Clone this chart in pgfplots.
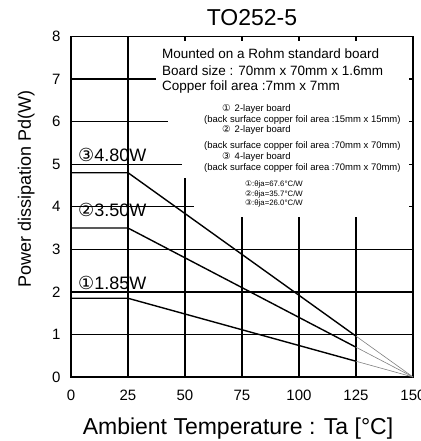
\documentclass[border=0pt]{standalone}
\usepackage{fontspec}
\setmainfont{Liberation Sans}
\newfontfamily\circfont{DejaVu Sans}
\usepackage{pgfplots}
\pgfplotsset{compat=1.18}
\begin{document}
\begin{tikzpicture}
\begin{axis}[
  at={(0,0)}, anchor=south west, scale only axis,
  width=342bp, height=340.5bp,
  xmin=0, xmax=150, ymin=0, ymax=8,
  xtick={0,25,...,150}, ytick={0,1,...,8},
  tick align=inside, major tick length=4bp,
  axis line style={line width=1.8bp},
  tick style={black, line width=1.2bp},
  /pgf/number format/assume math mode=true,
  ticklabel style={font=\fontsize{15bp}{18bp}\selectfont},
  xticklabel style={yshift=-10bp},
  yticklabel style={xshift=-7bp},
]
% grid, cut where the note stands
\draw[line width=1.3bp] (axis cs:25,0) -- (axis cs:25,8);
\draw[line width=1.3bp] (axis cs:50,0) -- (axis cs:50,4.68);
\draw[line width=1.3bp] (axis cs:75,0) -- (axis cs:75,3.75);
\draw[line width=1.3bp] (axis cs:100,0) -- (axis cs:100,3.75);
\draw[line width=1.3bp] (axis cs:125,0) -- (axis cs:125,3.75);
\draw[line width=1.3bp] (axis cs:0,1) -- (axis cs:150,1);
\draw[line width=1.3bp] (axis cs:0,2) -- (axis cs:150,2);
\draw[line width=1.3bp] (axis cs:0,3) -- (axis cs:150,3);
\draw[line width=1.3bp] (axis cs:0,4) -- (axis cs:53.8,4);
\draw[line width=1.3bp] (axis cs:0,5) -- (axis cs:48.5,5);
\draw[line width=1.3bp] (axis cs:0,6) -- (axis cs:42.4,6);
\draw[line width=1.3bp] (axis cs:0,7) -- (axis cs:37.2,7);
% derating curves
\addplot[black, line width=1.4bp] coordinates {(0,4.80) (25,4.80) (125,0.96)};
\addplot[gray, line width=0.6bp] coordinates {(125,0.96) (150,0)};
\addplot[black, line width=1.4bp] coordinates {(0,3.50) (25,3.50) (125,0.70)};
\addplot[gray, line width=0.6bp] coordinates {(125,0.70) (150,0)};
\addplot[black, line width=1.4bp] coordinates {(0,1.85) (25,1.85) (125,0.37)};
\addplot[gray, line width=0.6bp] coordinates {(125,0.37) (150,0)};
\end{axis}
\pgfresetboundingbox
\path (-71bp,-64bp) rectangle (350bp,377bp);
% titles
\node[font=\fontsize{23bp}{27bp}\selectfont, anchor=base, inner sep=0pt] at (181bp,351bp) {TO252-5};
\node[font=\fontsize{23bp}{27bp}\selectfont, anchor=base, inner sep=0pt] at (167bp,-57bp) {Ambient Temperature : Ta [°C]};
\node[font=\fontsize{18bp}{22bp}\selectfont, anchor=base, inner sep=0pt, rotate=90] at (-40bp,188bp) {Power dissipation Pd(W)};
\begin{scope}[every node/.style={inner sep=0pt, anchor=base west}]
\node[font=\fontsize{18bp}{20bp}\selectfont] at (7bp,215bp) {{\circfont ③}4.80W};
\node[font=\fontsize{18bp}{20bp}\selectfont] at (7bp,160bp) {{\circfont ②}3.50W};
\node[font=\fontsize{18bp}{20bp}\selectfont] at (7bp,87bp) {{\circfont ①}1.85W};
\node[font=\fontsize{13.5bp}{16bp}\selectfont] at (91bp,318bp) {Mounted on a Rohm standard board};
\node[font=\fontsize{13.5bp}{16bp}\selectfont] at (91bp,301bp) {Board size : 70mm x 70mm x 1.6mm};
\node[font=\fontsize{13.5bp}{16bp}\selectfont] at (91bp,286bp) {Copper foil area :7mm x 7mm};
\node[font=\fontsize{9.5bp}{11bp}\selectfont] at (151bp,265bp) {{\circfont ①}\hspace{4bp}2-layer board};
\node[font=\fontsize{9.5bp}{11bp}\selectfont] at (133bp,254bp) {(back surface copper foil area :15mm x 15mm)};
\node[font=\fontsize{9.5bp}{11bp}\selectfont] at (151bp,244bp) {{\circfont ②}\hspace{4bp}2-layer board};
\node[font=\fontsize{9.5bp}{11bp}\selectfont] at (133bp,228bp) {(back surface copper foil area :70mm x 70mm)};
\node[font=\fontsize{9.5bp}{11bp}\selectfont] at (151bp,217bp) {{\circfont ③}\hspace{4bp}4-layer board};
\node[font=\fontsize{9.5bp}{11bp}\selectfont] at (133bp,206bp) {(back surface copper foil area :70mm x 70mm)};
\node[font=\fontsize{7.8bp}{9bp}\selectfont] at (174bp,190bp) {{\circfont ①}:θja=67.6°C/W};
\node[font=\fontsize{7.8bp}{9bp}\selectfont] at (174bp,180bp) {{\circfont ②}:θja=35.7°C/W};
\node[font=\fontsize{7.8bp}{9bp}\selectfont] at (174bp,171bp) {{\circfont ③}:θja=26.0°C/W};
\end{scope}
\end{tikzpicture}
\end{document}
